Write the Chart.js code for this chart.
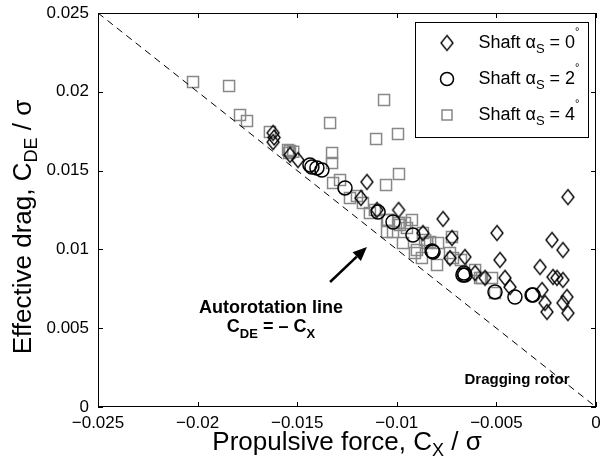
<!DOCTYPE html>
<html>
<head>
<meta charset="utf-8">
<script src="https://cdn.jsdelivr.net/npm/chart.js@4/dist/chart.umd.min.js"></script>
<style>
  html, body { margin: 0; padding: 0; background: #fff; }
  canvas { display: block; }
</style>
</head>
<body>
<canvas id="chart" width="600" height="466"></canvas>
<script>
// data
const diamondX = [-0.01621, -0.01621, -0.01616, -0.01536, -0.01496, -0.01150, -0.01180, -0.01100, -0.00991,
    -0.00869, -0.00768, -0.00723, -0.00733, -0.00658, -0.00607, -0.00557, -0.00497, -0.00482, -0.00457,
    -0.00432, -0.00281, -0.00271, -0.00256, -0.00246, -0.00221, -0.00216, -0.00196, -0.00166, -0.00166,
    -0.00146, -0.00166, -0.00141, -0.00141];
const diamondY = [0.01739, 0.01681, 0.01710, 0.01599, 0.01567, 0.01428, 0.01326, 0.01250, 0.01250,
    0.01104, 0.01193, 0.01072, 0.00945, 0.00952, 0.00850, 0.00819, 0.01104, 0.00933, 0.00819,
    0.00761, 0.00888, 0.00742, 0.00660, 0.00603, 0.01060, 0.00825, 0.00819, 0.00996, 0.00806,
    0.00698, 0.00660, 0.00596, 0.01332];

const circleX = [-0.01436, -0.01426, -0.01401, -0.01376, -0.01260, -0.01094, -0.01019, -0.00919, -0.00823,
    -0.00818, -0.00668, -0.00658, -0.00663, -0.00507, -0.00407, -0.00321, -0.00316];
const circleY = [0.01536, 0.01523, 0.01517, 0.01504, 0.01390, 0.01237, 0.01174, 0.01091, 0.00990,
    0.00984, 0.00838, 0.00838, 0.00850, 0.00730, 0.00698, 0.00711, 0.00711];

const squareX = [-0.02023, -0.01842, -0.01787, -0.01752, -0.01637, -0.01546, -0.01536, -0.01540, -0.01520,
    -0.01064, -0.01335, -0.01104, -0.00994, -0.01325, -0.01325, -0.00989, -0.01054, -0.01320, -0.01285,
    -0.01235, -0.01200, -0.01170, -0.01135, -0.01110, -0.01049, -0.01044, -0.00991, -0.00984, -0.00959,
    -0.00924, -0.01049, -0.01019, -0.00969, -0.00899, -0.00874, -0.00798, -0.00858, -0.00848, -0.00793,
    -0.00723, -0.00718, -0.00733, -0.00678, -0.00607, -0.00582, -0.00572, -0.00522, -0.00507, -0.00949,
    -0.00869, -0.00909, -0.00833];
const squareY = [0.02062, 0.02037, 0.01853, 0.01815, 0.01745, 0.01631, 0.01625, 0.01612, 0.01620,
    0.01948, 0.01802, 0.01701, 0.01732, 0.01612, 0.01548, 0.01478, 0.01409, 0.01421, 0.01440,
    0.01326, 0.01339, 0.01294, 0.01231, 0.01250, 0.01187, 0.01187, 0.01168, 0.01155, 0.01168,
    0.01187, 0.01110, 0.01110, 0.01041, 0.00996, 0.00945, 0.00901, 0.01060, 0.01041, 0.01041,
    0.01079, 0.00945, 0.00977, 0.00933, 0.00869, 0.00819, 0.00819, 0.00819, 0.00723, 0.01136,
    0.01104, 0.00977, 0.01047];

const lineX = [-0.025, 0];
const lineY = [0.025, 0];

const xTicks = [-0.025, -0.02, -0.015, -0.01, -0.005, 0];
const xTickLabels = ['\u22120.025', '\u22120.02', '\u22120.015', '\u22120.01', '\u22120.005', '0'];
const yTicks = [0, 0.005, 0.01, 0.015, 0.02, 0.025];
const yTickLabels = ['0', '0.005', '0.01', '0.015', '0.02', '0.025'];

const FONT = '"Liberation Sans", Arial, Helvetica, sans-serif';

function pts(xs, ys) {
    return xs.map((x, i) => ({x: x, y: ys[i]}));
}

function diamondImg(w, h, lw) {
    const c = document.createElement('canvas');
    c.width = w + 4; c.height = h + 4;
    const g = c.getContext('2d');
    const cx = c.width / 2, cy = c.height / 2;
    g.strokeStyle = '#000';
    g.lineWidth = lw;
    g.beginPath();
    g.moveTo(cx, cy - h / 2);
    g.lineTo(cx + w / 2, cy);
    g.lineTo(cx, cy + h / 2);
    g.lineTo(cx - w / 2, cy);
    g.closePath();
    g.stroke();
    return c;
}
const diamond = diamondImg(12, 15, 1.4);

// text with sub / superscripts, centred on x
function rich(ctx, parts, x, y, size, weight) {
    let w = 0;
    parts.forEach(p => {
        ctx.font = weight + ' ' + (p.s || size) + 'px ' + FONT;
        w += ctx.measureText(p.t).width;
    });
    let cx = x - w / 2;
    ctx.textAlign = 'left';
    ctx.textBaseline = 'middle';
    ctx.fillStyle = '#000';
    parts.forEach(p => {
        ctx.font = weight + ' ' + (p.s || size) + 'px ' + FONT;
        ctx.fillText(p.t, cx, y + (p.dy || 0));
        cx += ctx.measureText(p.t).width;
    });
}

const decor = {
    id: 'decor',
    afterDatasetsDraw(chart) {
        const ctx = chart.ctx;
        const a = chart.chartArea;
        const xs = chart.scales.x, ys = chart.scales.y;
        ctx.save();

        // box and inward ticks
        ctx.strokeStyle = '#000';
        ctx.lineWidth = 1;
        ctx.strokeRect(a.left + 0.5, a.top + 0.5, a.right - a.left - 1, a.bottom - a.top - 1);
        ctx.beginPath();
        xTicks.forEach(v => {
            const px = Math.round(xs.getPixelForValue(v)) + 0.5;
            ctx.moveTo(px, a.bottom); ctx.lineTo(px, a.bottom - 5);
            ctx.moveTo(px, a.top); ctx.lineTo(px, a.top + 5);
        });
        yTicks.forEach(v => {
            const py = Math.round(ys.getPixelForValue(v)) + 0.5;
            ctx.moveTo(a.left, py); ctx.lineTo(a.left + 5, py);
            ctx.moveTo(a.right, py); ctx.lineTo(a.right - 5, py);
        });
        ctx.stroke();

        // arrow
        const x0 = xs.getPixelForValue(-0.01335), y0 = ys.getPixelForValue(0.00793);
        const x1 = xs.getPixelForValue(-0.0115), y1 = ys.getPixelForValue(0.01015);
        const ang = Math.atan2(y1 - y0, x1 - x0);
        const hl = 14, hw = 6;
        const bx = x1 - hl * Math.cos(ang), by = y1 - hl * Math.sin(ang);
        ctx.lineWidth = 2.5;
        ctx.beginPath(); ctx.moveTo(x0, y0); ctx.lineTo(bx, by); ctx.stroke();
        ctx.fillStyle = '#000';
        ctx.beginPath();
        ctx.moveTo(x1, y1);
        ctx.lineTo(bx + hw * Math.sin(ang), by - hw * Math.cos(ang));
        ctx.lineTo(bx - hw * Math.sin(ang), by + hw * Math.cos(ang));
        ctx.closePath(); ctx.fill();

        // annotations
        rich(ctx, [{t: 'Autorotation line'}], 271, 308, 18, 'bold');
        rich(ctx, [{t: 'C'}, {t: 'DE', s: 13, dy: 7}, {t: ' = \u2013 C'}, {t: 'X', s: 13, dy: 7}], 271, 327, 18, 'bold');
        rich(ctx, [{t: 'Dragging rotor'}], 517, 380, 15, 'bold');

        // axis titles
        rich(ctx, [{t: 'Propulsive force, C'}, {t: 'X', s: 18, dy: 8}, {t: ' / \u03c3'}], 347, 443, 26, 'normal');
        ctx.save();
        ctx.translate(24, 227);
        ctx.rotate(-Math.PI / 2);
        rich(ctx, [{t: 'Effective drag, C'}, {t: 'DE', s: 18, dy: 8}, {t: ' / \u03c3'}], 0, 0, 26, 'normal');
        ctx.restore();

        // legend
        const lx = 415, ly = 22, lw = 173, lh = 115;
        ctx.fillStyle = '#fff';
        ctx.fillRect(lx, ly, lw, lh);
        ctx.lineWidth = 1;
        ctx.strokeStyle = '#000';
        ctx.strokeRect(lx + 0.5, ly + 0.5, lw, lh);
        const rows = [43, 79, 115];
        ctx.drawImage(diamond, 447 - diamond.width / 2, rows[0] - diamond.height / 2);
        ctx.lineWidth = 1.5;
        ctx.beginPath(); ctx.arc(447, rows[1], 6.5, 0, Math.PI * 2); ctx.stroke();
        ctx.strokeStyle = '#888';
        ctx.strokeRect(442, rows[2] - 5, 10, 10);
        ['0', '2', '4'].forEach((d, i) => {
            rich(ctx, [{t: 'Shaft \u03b1'}, {t: 'S', s: 13, dy: 6}, {t: ' = ' + d}, {t: '\u00b0', s: 11, dy: -11}],
                529, rows[i], 18, 'normal');
        });
        ctx.restore();
    }
};

new Chart(document.getElementById('chart'), {
    type: 'scatter',
    data: {
        datasets: [
            {
                label: 'autorotation',
                data: pts(lineX, lineY),
                showLine: true,
                borderColor: '#000',
                borderWidth: 1,
                borderDash: [7, 5],
                pointRadius: 0
            },
            {
                label: 'Shaft 0',
                data: pts(diamondX, diamondY),
                pointStyle: diamond,
                pointRadius: 7,
                borderColor: '#000',
                backgroundColor: 'rgba(0,0,0,0)'
            },
            {
                label: 'Shaft 2',
                data: pts(circleX, circleY),
                pointStyle: 'circle',
                pointRadius: 7,
                pointBorderWidth: 1.5,
                borderColor: '#000',
                backgroundColor: 'rgba(0,0,0,0)'
            },
            {
                label: 'Shaft 4',
                data: pts(squareX, squareY),
                pointStyle: 'rect',
                pointRadius: 7.8,
                pointBorderWidth: 1.5,
                borderColor: '#888',
                backgroundColor: 'rgba(0,0,0,0)'
            }
        ]
    },
    options: {
        responsive: false,
        animation: false,
        layout: {autoPadding: false, padding: {top: 13, right: 4, left: 0, bottom: 0}},
        plugins: {legend: {display: false}, tooltip: {enabled: false}},
        scales: {
            x: {
                type: 'linear',
                min: -0.025,
                max: 0,
                afterFit: s => { s.height = 59; s.paddingLeft = 0; s.paddingRight = 0; },
                afterBuildTicks: s => { s.ticks = xTicks.map(v => ({value: v})); },
                grid: {display: false, drawTicks: false},
                border: {display: false},
                ticks: {
                    padding: 6,
                    color: '#000',
                    font: {family: FONT, size: 17},
                    maxRotation: 0,
                    callback: (v, i) => xTickLabels[i]
                }
            },
            y: {
                type: 'linear',
                min: 0,
                max: 0.025,
                afterFit: s => { s.width = 98; s.paddingTop = 0; s.paddingBottom = 0; },
                afterBuildTicks: s => { s.ticks = yTicks.map(v => ({value: v})); },
                grid: {display: false, drawTicks: false},
                border: {display: false},
                ticks: {
                    padding: 9,
                    color: '#000',
                    font: {family: FONT, size: 17},
                    callback: (v, i) => yTickLabels[i]
                }
            }
        }
    },
    plugins: [decor]
});
</script>
</body>
</html>
